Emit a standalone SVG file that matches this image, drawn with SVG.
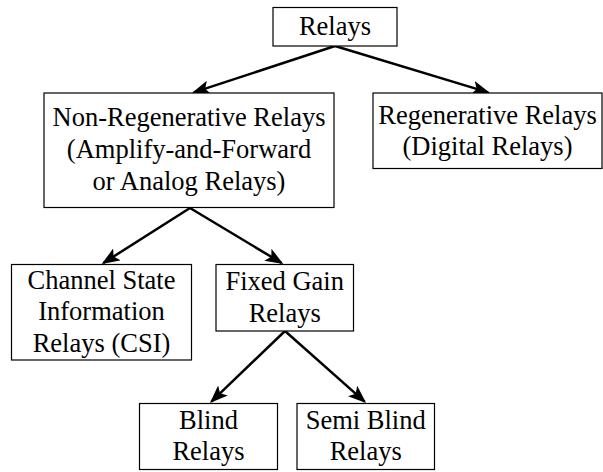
<svg xmlns="http://www.w3.org/2000/svg" width="603" height="472" viewBox="0 0 603 472">
<style>
  .box { fill: #ffffff; stroke: #000000; stroke-width: 1.2; }
  .lbl { font-family: "Liberation Serif", "Times New Roman", serif; font-size: 26.5px; fill: #000000; text-anchor: middle; }
  .edge { stroke: #000000; stroke-width: 2.5; fill: none; marker-end: url(#arrow); }
</style>
<defs>
  <marker id="arrow" markerUnits="userSpaceOnUse" viewBox="0 0 18 14" markerWidth="18" markerHeight="14" refX="16" refY="7" orient="auto">
    <path d="M0,0 L18,7 L0,14 L4,7 z" fill="#000000"/>
  </marker>
</defs>
<rect width="603" height="472" fill="#ffffff"/>
<g id="connectors">
  <line class="edge" x1="335" y1="46" x2="193.8" y2="92.4"/>
  <line class="edge" x1="335" y1="46" x2="488.1" y2="92.4"/>
  <line class="edge" x1="190" y1="208" x2="103.4" y2="263"/>
  <line class="edge" x1="190" y1="208" x2="281.6" y2="263"/>
  <line class="edge" x1="285" y1="331" x2="211.4" y2="401.6"/>
  <line class="edge" x1="285" y1="331" x2="364.6" y2="401.6"/>
</g>
<g id="relays">
  <rect class="box" x="273" y="7.5" width="124" height="38.5"/>
  <text class="lbl" x="335" y="35">Relays</text>
</g>
<g id="non-regenerative">
  <rect class="box" x="44" y="93" width="290" height="114.5"/>
  <text class="lbl" x="189" y="126">Non-Regenerative Relays</text>
  <text class="lbl" x="189" y="158">(Amplify-and-Forward</text>
  <text class="lbl" x="189" y="190">or Analog Relays)</text>
</g>
<g id="regenerative">
  <rect class="box" x="373" y="93" width="229" height="75.5"/>
  <text class="lbl" x="487.5" y="123.5">Regenerative Relays</text>
  <text class="lbl" x="487.5" y="155">(Digital Relays)</text>
</g>
<g id="csi">
  <rect class="box" x="11.5" y="264.5" width="180" height="95.5"/>
  <text class="lbl" x="101.5" y="288.5">Channel State</text>
  <text class="lbl" x="101.5" y="320">Information</text>
  <text class="lbl" x="101.5" y="352">Relays (CSI)</text>
</g>
<g id="fixed-gain">
  <rect class="box" x="216" y="264.5" width="137.5" height="66.5"/>
  <text class="lbl" x="284.7" y="289.5">Fixed Gain</text>
  <text class="lbl" x="284.7" y="321.5">Relays</text>
</g>
<g id="blind">
  <rect class="box" x="139.5" y="403.5" width="138" height="66"/>
  <text class="lbl" x="208.5" y="428.5">Blind</text>
  <text class="lbl" x="208.5" y="460">Relays</text>
</g>
<g id="semi-blind">
  <rect class="box" x="297" y="403.5" width="137.5" height="66"/>
  <text class="lbl" x="365.7" y="428.5">Semi Blind</text>
  <text class="lbl" x="365.7" y="460">Relays</text>
</g>
</svg>
